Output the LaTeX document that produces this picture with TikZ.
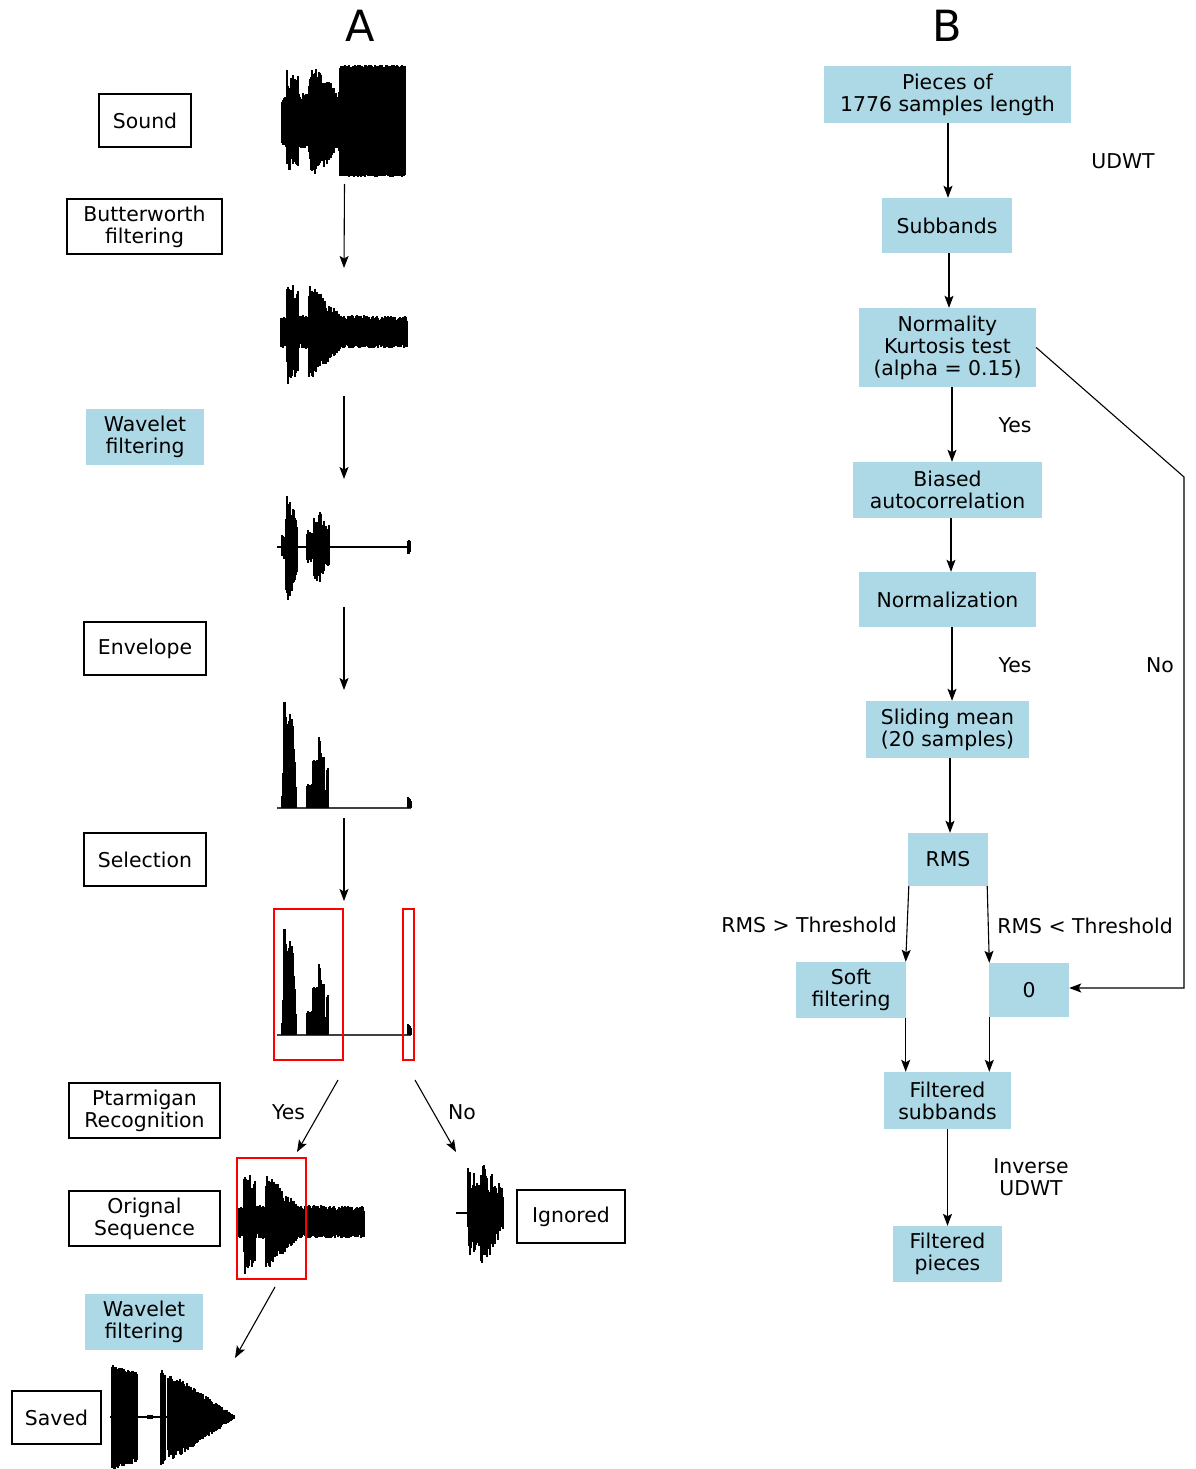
\documentclass[tikz,border=0pt]{standalone}
\usepackage{fontspec}
\setmainfont{DejaVu Sans}
\usetikzlibrary{arrows.meta}
\definecolor{lb}{HTML}{ADD8E6}
\newcommand\wavesym[2]{%
  \foreach \xa/\xb/\aa/\ab/\rr in {#2}{%
    \foreach \xx in {\xa,...,\xb}{%
      \pgfmathsetmacro\env{\aa+(\ab-\aa)*(\xx-\xa)/max(\xb-\xa,1)}%
      \pgfmathsetmacro\up{\env*(1-\rr+\rr*sqrt(rnd))}%
      \pgfmathsetmacro\dn{\env*(1-\rr+\rr*sqrt(rnd))}%
      \draw[wave] (\xx,#1-\up) -- (\xx,#1+\dn);%
    }%
  }%
}
\newcommand\waveup[2]{%
  \foreach \xa/\xb/\aa/\ab/\rr in {#2}{%
    \foreach \xx in {\xa,...,\xb}{%
      \pgfmathsetmacro\env{\aa+(\ab-\aa)*(\xx-\xa)/max(\xb-\xa,1)}%
      \pgfmathsetmacro\up{\env*(1-\rr+\rr*rnd)}%
      \draw[wave] (\xx,#1) -- (\xx,#1-\up);%
    }%
  }%
}
\newcommand\butterwave{%
  \pgfmathsetseed{4242}%
  \wavesym{332}{281/286/16/16/0.3, 287/298/56/42/0.55, 299/308/17/17/0.3, 309/313/50/46/0.5, 314/330/44/30/0.5, 331/340/28/18/0.4, 341/407/17/16/0.35}%
}
\newcommand\envwave{%
  \pgfmathsetseed{777}%
  \draw[line width=1.6pt, black!75] (277,0) -- (411,0);
  \waveup{0}{282/283/12/40/0.2, 284/285/110/108/0.05, 286/287/95/90/0.1, 288/289/88/88/0.05, 290/293/95/90/0.1, 294/296/70/25/0.3, 307/309/24/24/0.1, 310/310/12/12/0, 311/312/24/24/0.1, 313/314/50/50/0.1, 315/318/50/55/0.15, 319/320/75/70/0.05, 321/324/58/52/0.15, 325/326/18/18/0, 327/328/40/40/0.05, 408/411/12/8/0.1}%
}
\tikzset{
  wave/.style={line width=1.3pt, line cap=butt},
  wbox/.style={draw, line width=1.3pt, fill=white, align=center, inner sep=0pt},
  bbox/.style={fill=lb, align=center, inner sep=0pt},
  lbl/.style={align=center, inner sep=0pt},
  arr/.style={-{Stealth[length=12pt,width=9pt,inset=2.5pt]}, line width=1.1pt},
  ghost/.style={inner sep=0pt, outer sep=0pt},
  redbox/.style={draw=red, line width=1.2pt},
}
\begin{document}
\begin{tikzpicture}[x=1pt, y=-1pt, font=\fontsize{20.4}{22}\selectfont]
\fill[white] (0,0) rectangle (1195,1469);
\useasboundingbox (0,0) rectangle (1195,1469);

% titles
\node[lbl, font=\fontsize{43}{46}\selectfont] (titleA) at (360,26) {A};
\node[lbl, font=\fontsize{43}{46}\selectfont] (titleB) at (947,26) {B};

% ---------- Panel A labels ----------
\node[wbox, minimum width=92, minimum height=53] (sound) at (145,120.5) {Sound};
\node[wbox, minimum width=155, minimum height=55] (butter) at (144.5,226.5) {Butterworth\\filtering};
\node[bbox, minimum width=118, minimum height=56] (wav1) at (145,437) {Wavelet\\filtering};
\node[wbox, minimum width=122, minimum height=53] (env) at (145,648.5) {Envelope};
\node[wbox, minimum width=122, minimum height=53] (sel) at (145,859.5) {Selection};
\node[wbox, minimum width=151, minimum height=55] (ptar) at (144.5,1110.5) {Ptarmigan\\Recognition};
\node[wbox, minimum width=151, minimum height=55] (orig) at (144.5,1218.5) {Orignal\\Sequence};
\node[bbox, minimum width=118, minimum height=56] (wav2) at (144,1322) {Wavelet\\filtering};
\node[wbox, minimum width=89, minimum height=53] (saved) at (56.5,1417.5) {Saved};
\node[wbox, minimum width=108, minimum height=53] (ign) at (571,1216.5) {Ignored};

% ---------- waveform placeholders ----------
\node[ghost, minimum width=126, minimum height=112] (w1) at (344.5,121) {};
\node[ghost, minimum width=126, minimum height=111] (w2) at (344,331.5) {};
\node[ghost, minimum width=134, minimum height=111] (w3) at (344,542.5) {};
\node[ghost, minimum width=134, minimum height=110] (w4) at (344,753) {};
\node[ghost, minimum width=140, minimum height=151] (w5) at (344,984.5) {};
\node[ghost, minimum width=127, minimum height=122] (w6) at (300.5,1218) {};
\node[ghost, minimum width=47, minimum height=112] (w7) at (479.5,1216) {};
\node[ghost, minimum width=124, minimum height=107] (w8) at (172,1415.5) {};

% W1: sound
\pgfmathsetseed{1234}
\wavesym{121}{282/285/24/24/0.3, 286/287/30/56/0.4, 288/298/56/45/0.5, 299/308/28/28/0.3, 309/312/42/55/0.45, 313/325/55/45/0.5, 326/338/45/28/0.5, 339/339/30/56/0.1, 340/405/56/56/0.06}

% W2: butterworth
\butterwave

% W3: wavelet filtered
\draw[line width=2pt] (277,547) -- (410,547);
\pgfmathsetseed{99}
\wavesym{547}{282/285/12/12/0.5, 286/290/58/50/0.6, 291/297/50/25/0.6, 307/313/18/15/0.6, 314/320/32/38/0.6, 321/327/35/20/0.6, 328/329/22/22/0.5, 408/410/7/7/0.3}

% W4: envelope
\begin{scope}[shift={(0,808)}]
\envwave
\end{scope}

% W5: selection
\begin{scope}[shift={(0,1035)}]
\envwave
\end{scope}
\draw[redbox] (274,909) rectangle (343,1060);
\draw[redbox] (403,909) rectangle (414,1060);

% W6: original sequence
\begin{scope}[shift={(-43,890)}]
\butterwave
\end{scope}
\draw[redbox] (237,1158) rectangle (306,1279);

% W7: ignored
\draw[line width=2pt] (456,1213) -- (472,1213);
\pgfmathsetseed{31}
\wavesym{1213}{468/475/56/42/0.8, 476/480/34/34/0.75, 481/490/52/44/0.8, 491/503/42/24/0.8}

% W8: saved
\draw[line width=2pt] (110,1417) -- (168,1417);
\pgfmathsetseed{58}
\wavesym{1417}{112/137/53/45/0.15, 148/152/2.5/2.5/0.2, 161/165/50/45/0.2, 168/170/40/45/0.3, 171/234/45/2/0.3}

% ---------- Panel A arrows ----------
\draw[arr] ([yshift=-7pt]w1.south) -- ([yshift=8pt]w2.north);
\draw[arr] ([yshift=-9pt]w2.south) -- ([yshift=8pt]w3.north);
\draw[arr] ([yshift=-9pt]w3.south) -- ([yshift=8pt]w4.north);
\draw[arr] ([yshift=-10pt]w4.south) -- ([yshift=8pt]w5.north);
\draw[arr] ([xshift=-6pt,yshift=-20pt]w5.south) -- node[lbl, pos=0.45, left=14pt] (yesA) {Yes} ([xshift=-3.5pt,yshift=5pt]w6.north);
\draw[arr] ([xshift=71pt,yshift=-20pt]w5.south) -- node[lbl, pos=0.45, right=14pt] (noA) {No} ([yshift=8pt]w7.north west);
\draw[arr] ([xshift=-25.5pt,yshift=-8pt]w6.south) -- ([xshift=1pt,yshift=4pt]w8.north east);

% ---------- Panel B ----------
\node[bbox, minimum width=247, minimum height=57] (pieces) at (947.5,94.5) {Pieces of\\1776 samples length};
\node[bbox, minimum width=130, minimum height=55] (subb) at (947,225.5) {Subbands};
\node[bbox, minimum width=177, minimum height=79] (norm) at (947.5,347.5) {Normality\\Kurtosis test\\(alpha = 0.15)};
\node[bbox, minimum width=189, minimum height=56] (bias) at (947.5,490) {Biased\\autocorrelation};
\node[bbox, minimum width=177, minimum height=55] (nrmz) at (947.5,599.5) {Normalization};
\node[bbox, minimum width=163, minimum height=57] (slide) at (947.5,729.5) {Sliding mean\\(20 samples)};
\node[bbox, minimum width=80, minimum height=53] (rms) at (948,859.5) {RMS};
\node[bbox, minimum width=110, minimum height=56] (soft) at (851,990) {Soft\\filtering};
\node[bbox, minimum width=80, minimum height=54] (zero) at (1029,990) {0};
\node[bbox, minimum width=127, minimum height=57] (fsub) at (947.5,1100.5) {Filtered\\subbands};
\node[bbox, minimum width=109, minimum height=56] (fpie) at (947.5,1254) {Filtered\\pieces};

\node[lbl] (udwt) at (1123,161) {UDWT};
\node[lbl] (yes1) at (1015,425) {Yes};
\node[lbl] (yes2) at (1015,665) {Yes};
\node[lbl] (no1) at (1160,665) {No};
\node[lbl] (gt) at (809,925) {RMS > Threshold};
\node[lbl] (lt) at (1085,926) {RMS < Threshold};
\node[lbl] (inv) at (1031,1177) {Inverse\\UDWT};

\draw[arr] ([xshift=0.5pt]pieces.south) -- ([xshift=1pt]subb.north);
\draw[arr] ([xshift=2pt]subb.south) -- ([xshift=1.5pt]norm.north);
\draw[arr] ([xshift=4.5pt]norm.south) -- ([xshift=4.5pt]bias.north);
\draw[arr] ([xshift=3.5pt]bias.south) -- ([xshift=3.5pt]nrmz.north);
\draw[arr] ([xshift=4.5pt]nrmz.south) -- ([xshift=4.5pt]slide.north);
\draw[arr] ([xshift=2.5pt]slide.south) -- ([xshift=2pt]rms.north);
\draw[arr] ([xshift=1pt]rms.south west) -- ([xshift=-0.5pt]soft.north east);
\draw[arr] ([xshift=-1pt]rms.south east) -- ([xshift=0.5pt]zero.north west);
\draw[arr] ([xshift=-0.5pt]soft.south east) -- ([xshift=-0.5pt]soft.south east |- fsub.north);
\draw[arr] ([xshift=0.5pt]zero.south west) -- ([xshift=0.5pt]zero.south west |- fsub.north);
\draw[arr] (fsub.south) -- (fpie.north);
\coordinate (nobend) at (1184,477);
\coordinate (nocorner) at (1184,988);
\draw[arr] (norm.east) -- (nobend) -- (nocorner) -- ([yshift=2pt]zero.east);
\end{tikzpicture}
\end{document}
